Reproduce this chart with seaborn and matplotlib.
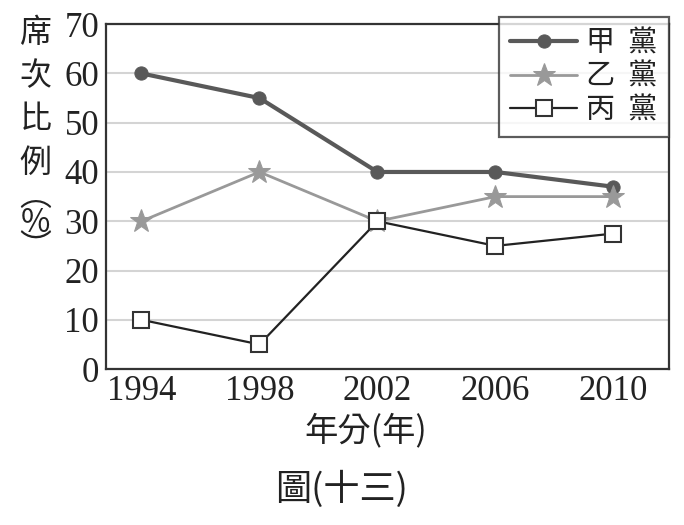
import pandas as pd
import matplotlib
matplotlib.use("Agg")
import matplotlib.pyplot as plt
import seaborn as sns

# ===== Data =====
years = ['1994', '1998', '2002', '2006', '2010']
party_a = [60, 55, 40, 40, 37]
party_b = [30, 40, 30, 35, 35]
party_c = [10, 5, 30, 25, 27.5]
labels = ['甲  黨', '乙  黨', '丙  黨']
y_ticks = [0, 10, 20, 30, 40, 50, 60, 70]

sns.set_theme(style='white')
plt.rcParams['font.family'] = ['Liberation Serif', 'Noto Sans CJK TC']
cjk = ['Noto Sans CJK TC', 'DejaVu Sans']

df = pd.DataFrame({
    'year': years * 3,
    'share': party_a + party_b + party_c,
    'party': [labels[0]] * 5 + [labels[1]] * 5 + [labels[2]] * 5,
})

fig = plt.figure(figsize=(6.84, 5.25), dpi=100)
ax = fig.add_axes([0.155, 0.297, 0.823, 0.657])

styles = {
    labels[0]: dict(color='#595959', linewidth=3, marker='o', markersize=9.5,
                    markerfacecolor='#595959', markeredgecolor='#595959'),
    labels[1]: dict(color='#999999', linewidth=2, marker='*', markersize=17,
                    markerfacecolor='#999999', markeredgecolor='#999999'),
    labels[2]: dict(color='#222222', linewidth=1.6, marker='s', markersize=11,
                    markerfacecolor='white', markeredgecolor='#333333',
                    markeredgewidth=1.5),
}
for name in labels:
    sub = df[df['party'] == name]
    sns.lineplot(data=sub, x='year', y='share', ax=ax, label=name, **styles[name])

ax.set_xlim(-0.3, 4.47)
ax.set_ylim(0, 70)
ax.set_yticks(y_ticks)
ax.yaxis.grid(True, color='#d4d4d4', linewidth=1.5)
ax.xaxis.grid(False)
ax.set_axisbelow(True)

for s in ax.spines.values():
    s.set_color('#333333')
    s.set_linewidth(1.6)

ax.tick_params(axis='x', direction='in', length=9, width=1.5, color='#333333',
               labelsize=25, pad=4, labelcolor='#222222')
ax.tick_params(axis='y', length=0, labelsize=25, pad=5, labelcolor='#222222')

ax.set_xlabel('')
ax.set_ylabel('')

leg = ax.legend(loc='upper right', bbox_to_anchor=(1.0, 1.022), frameon=True,
                fancybox=False, prop={'family': cjk, 'size': 21},
                handlelength=2.3, handletextpad=0.3, labelspacing=0.12,
                borderpad=0.4, borderaxespad=0)
leg.get_frame().set_edgecolor('#333333')
leg.get_frame().set_linewidth(1.6)
for t in leg.get_texts():
    t.set_color('#222222')

fig.text(0.052, 0.968, '席\n次\n比\n例', ha='center', va='top',
         family=cjk, fontsize=23, color='#222222', linespacing=1.45)
fig.text(0.052, 0.655, '︵\n%\n︶', ha='center', va='top',
         family=cjk, fontsize=23, color='#222222', linespacing=0.75)
fig.text(0.535, 0.18, '年分(年)', ha='center', va='center', family=cjk,
         fontsize=24, color='#222222')
fig.text(0.5, 0.067, '圖(十三)', ha='center', va='center', family=cjk,
         fontsize=26, color='#222222')

fig.savefig('out.png', dpi=100)
